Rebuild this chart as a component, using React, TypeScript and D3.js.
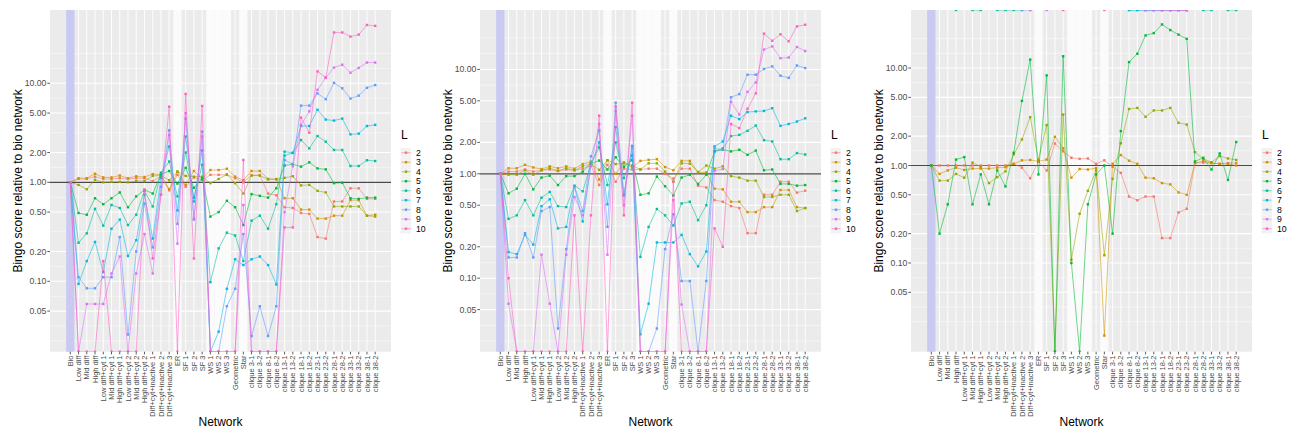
import React from 'react';
import * as d3 from 'd3';

const networks = [
  'Bio', 'Low diff', 'Mid diff', 'High diff', 'Low diff+cyt 1', 'Mid diff+cyt 1', 'High diff+cyt 1',
  'Low diff+cyt 2', 'Mid diff+cyt 2', 'High diff+cyt 2', 'Diff+cyt+inactive 1', 'Diff+cyt+inactive 2',
  'Diff+cyt+inactive 3', 'ER', 'SF 1', 'SF 2', 'SF 3', 'WS 1', 'WS 2', 'WS 3', 'Geometric', 'Star',
  'clique 3-1', 'clique 3-2', 'clique 8-1', 'clique 8-2', 'clique 13-1', 'clique 13-2', 'clique 18-1',
  'clique 18-2', 'clique 23-1', 'clique 23-2', 'clique 28-1', 'clique 28-2', 'clique 33-1', 'clique 33-2',
  'clique 38-1', 'clique 38-2',
];

const levels = ['2', '3', '4', '5', '6', '7', '8', '9', '10'];
const levelColors = ['#F8766D', '#D39200', '#93AA00', '#00BA38', '#00C19F', '#00B9E3', '#619CFF', '#DB72FB', '#FF61C3'];

const bioBand = ['Bio'];
const lightBands = ['ER', 'WS 1', 'WS 2', 'WS 3', 'Star'];
const yTicks = [0.05, 0.1, 0.2, 0.5, 1, 2, 5, 10];

const I = Infinity;
const N = null;

// panel 1
const p1L2 = [1, 1.08, 1.08, 1.14, 1.08, 1.08, 1.1, 1.08, 1.1, 1.1, 1.03, 1.15, 0.83, 1.19, 0.9, 1.12, 1.05, 1.19, 1.19, 1.19, 1.1, 1.0, 1.18, 1.18, 0.77, 0.74, 0.56, 0.55, 0.49, 0.48, 0.28, 0.27, 0.64, 0.64, 0.87, 0.87, 0.68, 0.68];
const p1L3 = [1, 1.1, 1.1, 1.22, 1.12, 1.12, 1.17, 1.1, 1.15, 1.13, 1.21, 1.19, 0.85, 1.28, 0.94, 1.3, 1.08, 1.33, 1.33, 1.37, 1.14, 1.05, 1.3, 1.3, 1.08, 1.08, 0.69, 0.69, 0.53, 0.53, 0.43, 0.43, 0.46, 0.46, 0.66, 0.66, 0.46, 0.45];
const p1L4 = [1, 0.94, 0.85, 1.06, 1.0, 1.01, 1.01, 1.0, 1.03, 1.03, 1.16, 1.17, 1.05, 1.28, 1.16, 1.14, 1.14, 0.98, 1.08, 1.2, 0.98, 0.77, 1.17, 1.17, 1.07, 1.07, 1.11, 1.15, 0.93, 0.94, 0.82, 0.79, 0.57, 0.57, 0.57, 0.57, 0.46, 0.47];
const p1L5 = [1, 0.49, 0.47, 0.69, 0.6, 0.69, 0.79, 0.56, 0.72, 0.84, 0.77, 1.2, 1.3, 0.97, 1.4, 0.88, 1.1, 0.45, 0.5, 0.65, 0.56, 0.37, 0.76, 0.73, 0.7, 0.87, 1.48, 1.52, 1.44, 1.59, 1.38, 1.35, 0.98, 0.99, 0.69, 0.68, 0.7, 0.7];
const p1L6 = [1, 0.245, 0.305, 0.54, 0.365, 0.59, 0.55, 0.37, 0.47, 0.82, 0.57, 1.25, 1.62, 0.72, 2.0, 0.7, 1.5, 0.098, 0.215, 0.31, 0.29, 0.16, 0.41, 0.46, 0.34, 0.6, 2.04, 1.98, 2.67, 2.2, 2.93, 2.57, 2.12, 2.12, 1.46, 1.46, 1.67, 1.64];
const p1L7 = [1, 0.094, 0.16, 0.25, 0.124, 0.34, 0.42, 0.18, 0.26, 0.75, 0.27, 1.1, 2.3, 0.52, 2.9, 0.64, 2.1, 0, 0.031, 0.084, 0.167, 0.146, 0.167, 0.178, 0.146, 0.093, 1.86, 1.98, 3.7, 3.7, 5.4, 4.3, 4.2, 4.4, 3.05, 3.1, 3.7, 3.8];
const p1L8 = [1, 0.11, 0.085, 0.085, 0.11, 0.11, 0.28, 0.029, 0.2, 0.61, 0.22, 0.9, 3.35, 0.38, 4.4, 0.42, 3.25, 0, 0, 0.056, 0.084, 0.3, 0.028, 0.056, 0.028, 0.056, 1.68, 1.53, 5.95, 5.95, 7.9, 6.9, 10.1, 8.9, 7.0, 7.5, 9.0, 9.6];
const p1L9 = [1, 0, 0.059, 0.059, 0.059, 0.12, 0.178, 0, 0.12, 0.3, 0.12, 0.75, 3.0, 0.24, 5.0, 0.43, 2.9, 0, 0, 0, 0, 0.59, 0, 0, 0, 0, 0.5, 1.45, 3.8, 5.2, 8.6, 11.4, 14.4, 15.4, 12.8, 14.3, 16.2, 16.2];
const p1L10 = [1, 0, 0, 0, 0.16, 0, 0, 0, 0, 0.84, 0.17, 0.75, 5.8, 0, 7.8, 0.17, 5.9, 0, 0, 0, 0, 1.68, 0, 0, 0, 0, 0.35, 0.35, 4.5, 3.17, 13.2, 11.4, 32.6, 32.6, 29.6, 31, 38.8, 38];

// panel 2
const p2L2 = [1, 1.05, 1.05, 1.1, 1.05, 1.08, 1.1, 1.06, 1.1, 1.08, 1.12, 1.2, 0.78, 1.22, 0.84, 1.12, 1.1, 1.1, 1.12, 1.12, 1.0, 0.9, 1.12, 1.12, 0.77, 0.74, 0.56, 0.54, 0.49, 0.47, 0.27, 0.27, 0.63, 0.63, 0.84, 0.84, 0.66, 0.69];
const p2L3 = [1, 1.13, 1.13, 1.22, 1.15, 1.11, 1.18, 1.13, 1.18, 1.12, 1.24, 1.31, 0.88, 1.35, 1.0, 1.29, 1.15, 1.33, 1.36, 1.38, 1.16, 1.08, 1.33, 1.33, 1.03, 1.03, 0.72, 0.71, 0.54, 0.54, 0.43, 0.43, 0.48, 0.48, 0.7, 0.7, 0.48, 0.47];
const p2L4 = [1, 0.98, 0.98, 1.08, 0.98, 1.08, 1.13, 1.07, 1.13, 1.08, 1.18, 1.25, 1.09, 1.35, 1.24, 1.26, 1.2, 1.1, 1.26, 1.26, 1.05, 0.84, 1.26, 1.25, 1.04, 1.2, 1.12, 1.18, 0.95, 0.92, 0.86, 0.86, 0.6, 0.6, 0.63, 0.63, 0.44, 0.47];
const p2L5 = [1, 0.65, 0.72, 1.0, 0.71, 0.92, 0.96, 0.78, 0.95, 0.95, 1.05, 1.25, 1.34, 1.1, 1.44, 1.17, 1.35, 0.63, 0.65, 0.94, 0.76, 0.62, 0.92, 0.98, 0.8, 0.98, 1.64, 1.7, 1.64, 1.7, 1.52, 1.67, 1.08, 1.1, 0.8, 0.8, 0.77, 0.78];
const p2L6 = [1, 0.37, 0.4, 0.56, 0.4, 0.59, 0.67, 0.49, 0.48, 0.77, 0.68, 1.24, 1.79, 0.78, 2.0, 0.91, 1.5, 0.16, 0.31, 0.46, 0.4, 0.32, 0.52, 0.54, 0.36, 0.5, 1.64, 1.75, 2.3, 2.36, 2.58, 2.9, 2.1, 2.04, 1.38, 1.38, 1.58, 1.53];
const p2L7 = [1, 0.178, 0.17, 0.26, 0.21, 0.49, 0.57, 0.3, 0.31, 0.76, 0.35, 1.2, 2.0, 0.51, 2.8, 0.62, 1.85, 0.029, 0.057, 0.22, 0.22, 0.22, 0.26, 0.17, 0.13, 0.18, 1.83, 2.04, 3.6, 3.34, 3.9, 3.96, 4.0, 4.25, 2.88, 3.0, 3.17, 3.4];
const p2L8 = [1, 0.158, 0.158, 0.27, 0.158, 0.44, 0.48, 0.033, 0.19, 0.76, 0.44, 1.47, 2.6, 0.31, 4.8, 0.64, 1.8, 0, 0, 0.033, 0.19, 0.41, 0.094, 0.094, 0, 0.094, 1.75, 1.7, 5.4, 5.8, 8.9, 8.9, 10.1, 10.7, 8.7, 8.3, 10.9, 10.3];
const p2L9 = [1, 0.057, 0, 0, 0, 0.168, 0.057, 0, 0.168, 0.6, 0.4, 1.2, 3.0, 0.168, 4.0, 0.5, 3.6, 0, 0, 0, 0, 0.56, 0.056, 0, 0, 0, 1.07, 1.11, 4.9, 3.7, 6.1, 7.5, 15.5, 16.6, 12.8, 13, 16.4, 15];
const p2L10 = [1, 0.1, 0, 0, 0, 0, 0, 0, 0, 0.4, 0, 0.4, 3.6, 0, 4.4, 0.4, 4.8, 0, 0, 0, 0, 0.84, 0, 0, 0, 0, 0.3, 0.2, 3.0, 2.74, 4.2, 5.9, 22, 18.8, 21.7, 18.6, 25.8, 26.8];

// panel 3 (Inf = bio score was zero, null = no value)
const p3L2 = [1, 1.0, 1.0, 1.0, 1.0, 1.0, 1.0, 1.0, 1.0, 1.0, 1.04, 0.95, 0.74, 1.1, 0.89, 1.68, 1.4, 1.2, 1.17, 1.18, 1.04, 1.13, 0.97, 0.84, 0.48, 0.44, 0.48, 0.48, 0.18, 0.18, 0.33, 0.36, 1.06, 1.07, 1.06, 1.04, 1.06, 1.06];
const p3L3 = [1, 0.82, 0.89, 0.95, 0.9, 0.93, 0.93, 0.93, 0.95, 0.96, 1.04, 1.13, 1.14, 1.1, 1.15, 1.97, 1.5, 0.75, 0.92, 0.91, 0.94, 0.018, 1.04, 1.28, 1.12, 1.04, 0.75, 0.74, 0.66, 0.64, 0.53, 0.5, 1.06, 1.11, 1.06, 1.04, 1.04, 1.0];
const p3L4 = [1, 0.7, 0.7, 0.82, 0.75, 1.07, 0.97, 0.66, 0.76, 0.87, 1.3, 1.85, 3.13, 1.15, 2.6, 0, 3.33, 0.108, 0.32, 0.55, 0.89, 0.12, 0.73, 1.69, 3.8, 3.9, 3.16, 3.67, 3.67, 3.9, 2.74, 2.63, 1.37, 1.17, 1.08, 1.25, 1.18, 1.14];
const p3L5 = [1, 0.2, 0.4, 1.15, 1.22, 0.4, 0.81, 0.4, 0.89, 0.61, 1.35, 4.6, 12.2, 0.81, 8.4, 0, 13.2, 0.1, 0, 0.4, 0.81, 1.0, 0.2, 2.25, 11.5, 14, 21.6, 22.8, 28, 24.5, 22, 19.9, 1.1, 1.2, 0.91, 1.33, 0.71, 1.74];
const p3L6 = [N, N, N, I, N, I, I, N, I, I, I, I, N, N, N, N, N, N, N, N, N, N, N, N, I, I, I, I, I, I, I, I, N, I, I, N, I, I];
const p3L7 = [N, N, N, N, N, N, N, N, N, N, N, N, N, N, N, N, N, N, N, N, N, N, N, N, I, I, I, I, I, I, I, I, N, N, N, N, N, N];
const p3L8 = [N, N, N, N, N, N, N, N, N, N, N, I, I, N, N, N, N, N, N, N, N, N, N, N, N, N, I, I, I, I, I, I, N, N, N, N, N, N];
const p3L9 = [N, N, N, N, N, N, N, N, N, N, N, N, I, N, I, N, N, N, N, N, N, N, N, N, N, N, I, I, I, I, I, I, N, N, N, N, N, N];
const p3L10 = [N, N, N, N, N, N, N, N, N, N, N, N, N, N, N, N, I, N, N, N, N, I, N, N, N, N, N, N, I, I, I, I, N, N, N, N, N, N];

const panel1 = [p1L2, p1L3, p1L4, p1L5, p1L6, p1L7, p1L8, p1L9, p1L10];
const panel2 = [p2L2, p2L3, p2L4, p2L5, p2L6, p2L7, p2L8, p2L9, p2L10];
const panel3 = [p3L2, p3L3, p3L4, p3L5, p3L6, p3L7, p3L8, p3L9, p3L10];

const FONT = '"Liberation Sans", Arial, Helvetica, sans-serif';
const TOP = 10;
const BOTTOM = 351.7;
const PW = 341;

const panels = [
  { dx: 0, series: panel1, lo: -1.711, hi: 1.74 },
  { dx: 430, series: panel2, lo: -1.704, hi: 1.569 },
  { dx: 861, series: panel3, lo: -1.91, hi: 1.595 },
];

// minor breaks in log10 space (midpoints, extended one step past the majors)
const minorLog = [-1.602, -1.452, -1.151, -0.849, -0.5, -0.151, 0.151, 0.5, 0.849, 1.151, 1.301];

type Val = number | null;

const Panel: React.FC<{ dx: number; series: Val[][]; lo: number; hi: number; idx: number }> = ({ dx, series, lo, hi, idx }) => {
  const left = 50 + dx;
  const right = left + PW;
  const x = d3.scalePoint<string>().domain(networks).range([left + 20.3, left + 325.2]);
  const step = x.step();
  const y = d3.scaleLog().domain([Math.pow(10, lo), Math.pow(10, hi)]).range([BOTTOM, TOP]);
  const yv = (v: number) => (v === Infinity ? TOP : v <= 0 ? BOTTOM : y(v));
  const clipId = `clip-${idx}`;

  const line = d3
    .line<{ i: number; v: Val }>()
    .defined((d) => d.v !== null)
    .x((d) => x(networks[d.i]) as number)
    .y((d) => yv(d.v as number));

  const legendX = left + 351;
  const keyY0 = 152.7;
  const keyStep = 9.5;

  return (
    <g>
      <defs>
        <clipPath id={clipId}>
          <rect x={left} y={TOP} width={PW} height={BOTTOM - TOP} />
        </clipPath>
      </defs>
      <rect x={left} y={TOP} width={PW} height={BOTTOM - TOP} fill="#EBEBEB" />
      {minorLog.map((m, k) => {
        const yy = y(Math.pow(10, m));
        if (yy < TOP || yy > BOTTOM) return null;
        return <line key={`mn${k}`} x1={left} x2={right} y1={yy} y2={yy} stroke="#FFFFFF" strokeWidth={0.5} />;
      })}
      {yTicks.map((t) => (
        <line key={`mj${t}`} x1={left} x2={right} y1={y(t)} y2={y(t)} stroke="#FFFFFF" strokeWidth={1.05} />
      ))}
      {networks.map((n) => (
        <line key={`vg${n}`} x1={x(n)} x2={x(n)} y1={TOP} y2={BOTTOM} stroke="#FFFFFF" strokeWidth={0.9} />
      ))}
      {lightBands.map((n) => (
        <rect key={`lb${n}`} x={(x(n) as number) - step / 2} y={TOP} width={step} height={BOTTOM - TOP} fill="#FBFBFB" />
      ))}
      {bioBand.map((n) => (
        <rect key={`bb${n}`} x={(x(n) as number) - step / 2} y={TOP} width={step} height={BOTTOM - TOP} fill="#C9C9F1" />
      ))}
      <line x1={left} x2={right} y1={y(1)} y2={y(1)} stroke="#4A4A4A" strokeWidth={1.2} />
      <g clipPath={`url(#${clipId})`}>
        {series.map((vals, s) => {
          const pts = vals.map((v, i) => ({ i, v }));
          return (
            <g key={`s${s}`}>
              <path d={line(pts) || undefined} fill="none" stroke={levelColors[s]} strokeWidth={0.75} strokeOpacity={0.75} />
              {pts
                .filter((d) => d.v !== null)
                .map((d) => (
                  <rect
                    key={`p${d.i}`}
                    x={(x(networks[d.i]) as number) - 1.2}
                    y={yv(d.v as number) - 1.2}
                    width={2.4}
                    height={2.4}
                    fill={levelColors[s]}
                  />
                ))}
            </g>
          );
        })}
      </g>
      {/* y axis */}
      {yTicks.map((t) => (
        <g key={`yt${t}`}>
          <line x1={left - 2.7} x2={left} y1={y(t)} y2={y(t)} stroke="#333333" strokeWidth={0.8} />
          <text x={left - 3.6} y={y(t)} dy="0.35em" textAnchor="end" fontSize={8.7} fill="#4D4D4D" fontFamily={FONT}>
            {d3.format('.2f')(t)}
          </text>
        </g>
      ))}
      {/* x axis */}
      {networks.map((n) => (
        <g key={`xt${n}`}>
          <line x1={x(n)} x2={x(n)} y1={BOTTOM} y2={BOTTOM + 2.7} stroke="#333333" strokeWidth={0.8} />
          <text
            transform={`translate(${x(n)},${BOTTOM + 3.8}) rotate(-90)`}
            textAnchor="end"
            dy="0.35em"
            fontSize={7.5}
            fill="#4D4D4D"
            fontFamily={FONT}
          >
            {n}
          </text>
        </g>
      ))}
      <text x={(left + right) / 2} y={426} textAnchor="middle" fontSize={12} fill="#000000" fontFamily={FONT}>
        Network
      </text>
      <text
        transform={`translate(${dx + 21.5},${(TOP + BOTTOM) / 2}) rotate(-90)`}
        textAnchor="middle"
        fontSize={12}
        fill="#000000"
        fontFamily={FONT}
      >
        Bingo score relative to bio network
      </text>
      {/* legend */}
      <text x={legendX} y={139.3} fontSize={12} fill="#000000" fontFamily={FONT}>
        L
      </text>
      {levels.map((l, k) => {
        const cy = keyY0 + k * keyStep;
        return (
          <g key={`lg${l}`}>
            <rect x={legendX - 0.5} y={cy - keyStep / 2} width={10.5} height={keyStep} fill="#F2F2F2" />
            <line x1={legendX + 0.5} x2={legendX + 9.5} y1={cy} y2={cy} stroke={levelColors[k]} strokeWidth={0.75} strokeOpacity={0.75} />
            <rect x={legendX + 3.8} y={cy - 1.2} width={2.4} height={2.4} fill={levelColors[k]} />
            <text x={legendX + 15} y={cy} dy="0.35em" fontSize={8.7} fill="#000000" fontFamily={FONT}>
              {l}
            </text>
          </g>
        );
      })}
    </g>
  );
};

const App: React.FC = () => {
  return (
    <svg width={1296} height={432} style={{ display: 'block', position: 'absolute', left: 0, top: 0, background: '#FFFFFF' }}>
      {panels.map((p, k) => (
        <Panel key={k} idx={k} dx={p.dx} series={p.series} lo={p.lo} hi={p.hi} />
      ))}
    </svg>
  );
};

export default App;
